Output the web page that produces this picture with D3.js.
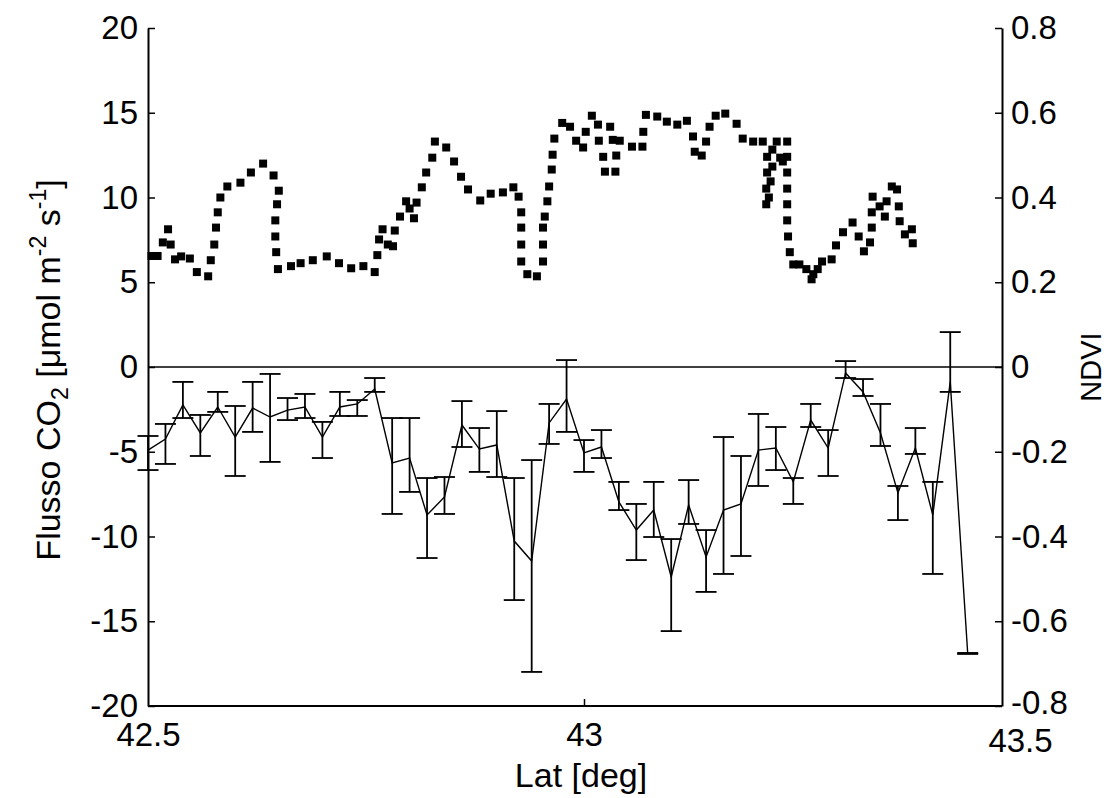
<!DOCTYPE html>
<html><head><meta charset="utf-8">
<script src="https://cdn.jsdelivr.net/npm/d3@7"></script>
<style>
body{margin:0;background:#fff}
svg text{font-family:"Liberation Sans",Arial,Helvetica,sans-serif;fill:#000}
</style>
</head><body><svg id="c" width="1113" height="798"></svg>
<script>
// NDVI samples (right axis)
const ndviLat = [42.504,42.511,42.517,42.523,42.526,42.531,42.538,42.548,42.556,42.569,42.572,42.576,42.578,42.580,42.583,42.591,42.606,42.618,42.632,42.644,42.650,42.648,42.646,42.646,42.647,42.649,42.664,42.675,42.689,42.705,42.719,42.733,42.747,42.760,42.763,42.765,42.769,42.775,42.781,42.783,42.789,42.796,42.800,42.805,42.808,42.814,42.819,42.826,42.829,42.842,42.851,42.859,42.867,42.881,42.893,42.907,42.919,42.925,42.928,42.928,42.928,42.928,42.935,42.946,42.953,42.953,42.953,42.955,42.958,42.960,42.963,42.964,42.966,42.975,42.984,42.991,42.999,43.002,43.009,43.016,43.017,43.022,43.024,43.030,43.033,43.037,43.036,43.041,43.055,43.067,43.068,43.071,43.084,43.095,43.107,43.118,43.125,43.127,43.135,43.140,43.144,43.151,43.162,43.175,43.182,43.194,43.205,43.221,43.233,43.216,43.210,43.216,43.210,43.214,43.209,43.212,43.209,43.225,43.233,43.228,43.233,43.233,43.233,43.233,43.234,43.236,43.240,43.247,43.255,43.263,43.261,43.268,43.273,43.284,43.289,43.297,43.308,43.315,43.321,43.328,43.330,43.330,43.331,43.339,43.345,43.347,43.353,43.359,43.361,43.362,43.368,43.376,43.377];
const ndviVal = [0.262,0.262,0.294,0.325,0.289,0.254,0.261,0.256,0.224,0.214,0.252,0.289,0.329,0.365,0.400,0.426,0.435,0.459,0.480,0.452,0.416,0.384,0.346,0.308,0.271,0.231,0.238,0.245,0.252,0.261,0.245,0.233,0.238,0.224,0.264,0.301,0.325,0.289,0.285,0.322,0.355,0.391,0.374,0.351,0.388,0.424,0.459,0.494,0.532,0.518,0.485,0.449,0.419,0.393,0.409,0.412,0.424,0.402,0.365,0.329,0.289,0.249,0.219,0.214,0.249,0.289,0.329,0.355,0.391,0.426,0.466,0.501,0.539,0.576,0.567,0.534,0.518,0.555,0.593,0.572,0.534,0.496,0.461,0.567,0.536,0.499,0.461,0.534,0.520,0.520,0.555,0.595,0.591,0.579,0.572,0.581,0.544,0.508,0.499,0.532,0.567,0.593,0.598,0.574,0.539,0.532,0.532,0.532,0.532,0.513,0.496,0.473,0.459,0.438,0.421,0.400,0.384,0.494,0.496,0.485,0.459,0.421,0.384,0.346,0.308,0.271,0.242,0.242,0.231,0.219,0.207,0.231,0.249,0.254,0.287,0.318,0.341,0.308,0.273,0.294,0.329,0.365,0.402,0.379,0.355,0.391,0.426,0.419,0.379,0.344,0.313,0.325,0.292];

// CO2 flux (left axis) with error bars
const fluxLat = [42.50,42.52,42.54,42.56,42.58,42.60,42.62,42.64,42.66,42.68,42.70,42.72,42.74,42.76,42.78,42.80,42.82,42.84,42.86,42.88,42.90,42.92,42.94,42.96,42.98,43.00,43.02,43.04,43.06,43.08,43.10,43.12,43.14,43.16,43.18,43.20,43.22,43.24,43.26,43.28,43.30,43.32,43.34,43.36,43.38,43.40,43.42,43.44];
const fluxMean = [-4.90,-4.25,-2.24,-3.89,-2.36,-4.13,-2.42,-2.95,-2.54,-2.36,-4.13,-2.36,-2.18,-1.30,-5.66,-5.37,-8.73,-7.67,-3.42,-4.84,-4.60,-10.27,-11.45,-3.30,-1.89,-5.07,-4.72,-7.96,-9.62,-8.44,-12.39,-8.14,-11.21,-8.44,-8.08,-4.90,-4.78,-6.78,-3.13,-4.78,-0.35,-1.47,-3.89,-7.43,-4.78,-8.73,-0.88,-16.87];
const fluxHigh = [-4.07,-3.36,-0.88,-2.83,-1.47,-2.30,-0.88,-0.41,-1.83,-1.59,-3.24,-1.47,-1.95,-0.65,-3.01,-3.01,-6.55,-6.49,-2.01,-3.60,-2.60,-6.55,-5.49,-2.18,0.41,-4.31,-3.72,-6.78,-8.08,-6.78,-10.15,-6.67,-9.62,-4.13,-5.25,-2.77,-3.54,-6.55,-2.18,-3.72,0.35,-0.71,-2.18,-7.02,-3.60,-6.78,2.06,-16.87];
const fluxLow = [-6.08,-5.72,-3.01,-5.25,-2.65,-6.43,-3.83,-5.60,-3.13,-3.01,-5.37,-2.89,-2.89,-1.47,-8.67,-7.37,-11.27,-8.67,-4.72,-6.19,-6.49,-13.75,-17.99,-4.54,-3.83,-6.19,-5.37,-8.44,-11.39,-10.03,-15.58,-9.26,-13.27,-12.21,-11.15,-7.02,-6.08,-8.08,-3.54,-6.43,-0.65,-1.71,-4.66,-9.03,-5.13,-12.21,-1.47,-16.93];

const xTicks = [42.5, 43, 43.5];
const yLeftTicks = [-20,-15,-10,-5,0,5,10,15,20];
const yRightTicks = [-0.8,-0.6,-0.4,-0.2,0,0.2,0.4,0.6,0.8];

const svg = d3.select("#c");
const X0 = 148, X1 = 1020, XR = 1002, YT = 28, YB = 706;
const x = d3.scaleLinear().domain([42.5, 43.5]).range([X0, X1]);
const y = d3.scaleLinear().domain([-20, 20]).range([YB, YT]);
const yR = d3.scaleLinear().domain([-0.8, 0.8]).range([YB, YT]);

const TF = 33;

// left axis
const gL = svg.append("g").attr("transform", `translate(${X0},0)`)
  .call(d3.axisLeft(y).tickValues(yLeftTicks).tickSize(-7).tickSizeOuter(0).tickPadding(10).tickFormat(d => String(d)));
// right axis
const gR = svg.append("g").attr("transform", `translate(${XR},0)`)
  .call(d3.axisRight(yR).tickValues(yRightTicks).tickSize(-7).tickSizeOuter(0).tickPadding(9).tickFormat(d => String(d)));
// bottom axis
const gB = svg.append("g").attr("transform", `translate(0,${YB})`)
  .call(d3.axisBottom(x).tickValues(xTicks).tickSize(-7).tickSizeOuter(0).tickPadding(17).tickFormat(d => String(d)));
gB.select(".domain").remove();
gB.selectAll(".tick line").filter(d => d !== 43).remove();
svg.append("line").attr("x1", X0).attr("x2", XR).attr("y1", YB).attr("y2", YB)
  .attr("stroke", "#000").attr("stroke-width", 2);

[gL, gR, gB].forEach(g => {
  g.selectAll(".domain").attr("stroke", "#000").attr("stroke-width", 2);
  g.selectAll(".tick line").attr("stroke", "#000").attr("stroke-width", 1.5);
  g.selectAll(".tick text").attr("font-size", TF).attr("font-family", "Liberation Sans, Arial, sans-serif").attr("fill", "#000");
});
// keep the corner labels from colliding
gB.selectAll(".tick text").filter(d => d === 43.5).attr("y", 23);
gR.selectAll(".tick text").filter(d => d === -0.8).attr("y", -3);

// zero line
svg.append("line").attr("x1", X0).attr("x2", XR).attr("y1", y(0)).attr("y2", y(0))
  .attr("stroke", "#000").attr("stroke-width", 1.6);

// error bars
const flux = fluxLat.map((l, i) => ({lat: l, m: fluxMean[i], hi: fluxHigh[i], lo: fluxLow[i]}));
const cap = 10.5;
const eb = svg.append("g").attr("stroke", "#000").attr("stroke-width", 1.8);
flux.forEach(d => {
  const cx = x(d.lat);
  eb.append("line").attr("x1", cx).attr("x2", cx).attr("y1", y(d.hi)).attr("y2", y(d.lo));
  eb.append("line").attr("x1", cx - cap).attr("x2", cx + cap).attr("y1", y(d.hi)).attr("y2", y(d.hi));
  eb.append("line").attr("x1", cx - cap).attr("x2", cx + cap).attr("y1", y(d.lo)).attr("y2", y(d.lo));
});
svg.append("path").datum(flux)
  .attr("fill", "none").attr("stroke", "#000").attr("stroke-width", 1.4)
  .attr("d", d3.line().x(d => x(d.lat)).y(d => y(d.m)));

// NDVI markers
const ndvi = ndviLat.map((l, i) => ({lat: l, v: ndviVal[i]}));
svg.append("g").selectAll("rect").data(ndvi).join("rect")
  .attr("x", d => x(d.lat) - 4).attr("y", d => yR(d.v) - 4)
  .attr("width", 8).attr("height", 8).attr("fill", "#000");

// axis labels
svg.append("text").attr("x", 581).attr("y", 787).attr("text-anchor", "middle")
  .attr("font-size", 34).text("Lat [deg]");

const yl = svg.append("text").attr("transform", "translate(60,370) rotate(-90)")
  .attr("text-anchor", "middle").attr("font-size", 34);
yl.append("tspan").text("Flusso CO");
yl.append("tspan").attr("font-size", 23).attr("dy", 8).text("2");
yl.append("tspan").attr("dy", -8).text(" [\u03bcmol m");
yl.append("tspan").attr("font-size", 23).attr("dy", -14).text("-2");
yl.append("tspan").attr("dy", 14).text(" s");
yl.append("tspan").attr("font-size", 23).attr("dy", -14).text("-1");
yl.append("tspan").attr("dy", 14).text("]");

svg.append("text").attr("transform", "translate(1101,367) rotate(-90)")
  .attr("text-anchor", "middle").attr("font-size", 29).text("NDVI");
</script>
</body></html>
